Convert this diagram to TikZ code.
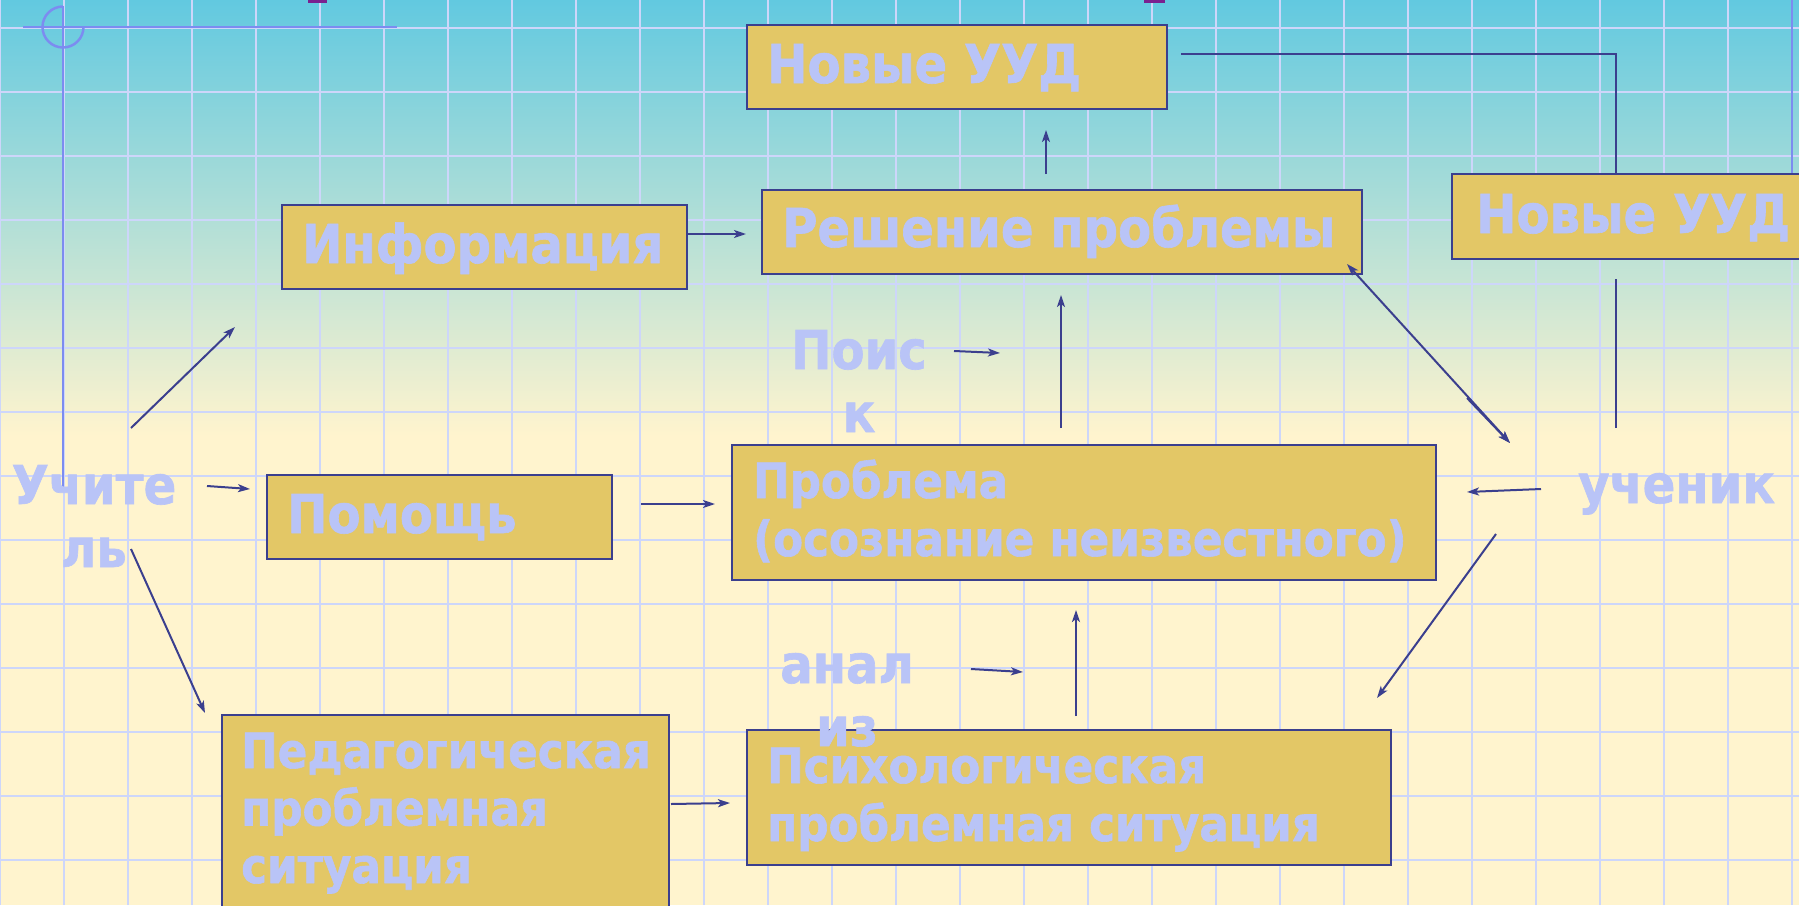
\documentclass[tikz,border=0pt]{standalone}
\usepackage{fontspec}
\setmainfont{DejaVu Sans}[FakeStretch=0.9,BoldFeatures={FakeBold=1.2}]
\usetikzlibrary{arrows.meta}
\definecolor{skytop}{HTML}{62C9E0}
\definecolor{creambg}{HTML}{FFF4CE}
\definecolor{gridln}{HTML}{CDD6FA}
\definecolor{decoln}{HTML}{7C8CF0}
\definecolor{boxfill}{HTML}{E3C766}
\definecolor{navy}{HTML}{3B3F8E}
\definecolor{lilac}{HTML}{B9C4F7}
\definecolor{plum}{HTML}{7A2090}
\begin{document}
\begin{tikzpicture}[x=1pt,y=-1pt,
  blk/.style={draw=navy,line width=2.3pt,fill=boxfill,inner sep=0pt,anchor=north west},
  txtbig/.style={text=lilac,font=\fontsize{53.5}{63}\selectfont\bfseries,inner sep=0pt},
  txtsmall/.style={text=lilac,font=\fontsize{48.5}{58}\selectfont\bfseries,inner sep=0pt,align=left},
  arr/.style={draw=navy,line width=2pt,-{Stealth[length=12pt,width=8pt,inset=3pt]}},
  ln/.style={draw=navy,line width=2pt}]
\useasboundingbox (0,0) rectangle (1799,905);
\clip (0,0) rectangle (1799,905);
% background and grid
\fill[top color=skytop,bottom color=creambg] (0,0) rectangle (1799,436);
\fill[creambg] (0,436) rectangle (1799,905);
\foreach \x in {0,...,28}
\draw[gridln,line width=2pt] (64*\x,0) -- (64*\x,905);
\foreach \y in {0,...,13}
\draw[gridln,line width=2pt] (0,28+64*\y) -- (1799,28+64*\y);
% decoration
\fill[plum] (308,0) rectangle (327,2.5);
\fill[plum] (1144,0) rectangle (1165,2.5);
\draw[decoln,line width=2.5pt] (23,27) -- (397,27);
\draw[decoln,line width=2.5pt] (63,6) -- (63,487);
\draw[decoln,line width=2.5pt] (63,6.5) arc[start angle=270,end angle=0,radius=20.5];
\draw[decoln,line width=2.5pt] (1792,0) -- (1792,173);
% boxes
\node[blk,minimum width=420,minimum height=84] (uudA) at (746,24) {};
\node[blk,minimum width=405,minimum height=84] (info) at (281,204) {};
\node[blk,minimum width=600,minimum height=84] (resh) at (761,189) {};
\node[blk,minimum width=400,minimum height=85] (uudB) at (1451,173) {};
\node[blk,minimum width=345,minimum height=84] (pomo) at (266,474) {};
\node[blk,minimum width=704,minimum height=135] (prob) at (731,444) {};
\node[blk,minimum width=447,minimum height=250] (pedag) at (221,714) {};
\node[blk,minimum width=644,minimum height=135] (psych) at (746,729) {};
% connector ends
\coordinate (t1) at (131,428);  \coordinate (i1) at (235,327);
\coordinate (t2) at (207,486);  \coordinate (p1) at (250,489);
\coordinate (t3) at (131,549);  \coordinate (g1) at (205,713);
\coordinate (i2) at (686,234);  \coordinate (r1) at (746,234);
\coordinate (r2) at (1046,174); \coordinate (u1) at (1046,130);
\coordinate (s1) at (954,351);  \coordinate (s2) at (1000,353);
\coordinate (q1) at (1061,428); \coordinate (r3) at (1061,295);
\coordinate (p2) at (641,504);  \coordinate (q2) at (715,504);
\coordinate (g2) at (671,804);  \coordinate (h1) at (730,803);
\coordinate (a1) at (971,669);  \coordinate (a2) at (1023,672);
\coordinate (h2) at (1076,716); \coordinate (q3) at (1076,610);
\coordinate (k1) at (1541,489); \coordinate (q4) at (1467,492);
\coordinate (k2) at (1496,534); \coordinate (h3) at (1377,698);
\coordinate (r4) at (1347,264); \coordinate (k3) at (1510,443);
\coordinate (k4) at (1467,398);
\coordinate (k5) at (1616,428); \coordinate (u2) at (1616,279);
\coordinate (u3) at (1181,54);  \coordinate (c1) at (1616,54);
% connectors
\draw[arr] (t1) -- (i1);
\draw[arr] (t2) -- (p1);
\draw[arr] (t3) -- (g1);
\draw[arr] (i2) -- (r1);
\draw[arr] (r2) -- (u1);
\draw[arr] (s1) -- (s2);
\draw[arr] (q1) -- (r3);
\draw[arr] (p2) -- (q2);
\draw[arr] (g2) -- (h1);
\draw[arr] (a1) -- (a2);
\draw[arr] (h2) -- (q3);
\draw[arr] (k1) -- (q4);
\draw[arr] (k2) -- (h3);
\draw[arr,{Stealth[length=12pt,width=8pt,inset=3pt]}-{Stealth[length=12pt,width=8pt,inset=3pt]}] (r4) -- (k3);
\draw[arr] (k4) -- (k3);
\draw[ln] (k5) -- (u2);
\draw[ln] (u3) -- (c1) -- (uudB.north west -| c1);
% texts (multi-line nodes sit on their last baseline)
\node[txtbig,anchor=base west] (uudAt) at (767,83) {Новые УУД};
\node[txtbig,anchor=base west] (infot) at (302,263) {Информация};
\node[txtbig,anchor=base west] (resht) at (782,247) {Решение проблемы};
\node[txtbig,anchor=base west] (uudBt) at (1476,233) {Новые УУД};
\node[txtbig,anchor=base west] (pomot) at (287,533) {Помощь};
\node[txtsmall,anchor=base west] (probt) at (753,556) {Проблема\\(осознание неизвестного)};
\node[txtsmall,anchor=base west,font=\fontsize{48.5}{57.5}\selectfont\bfseries] (pedagt) at (241,883) {Педагогическая\\проблемная\\ситуация};
\node[txtsmall,anchor=base west] (psycht) at (767,841) {Психологическая\\проблемная ситуация};
\node[txtbig,align=center,anchor=base] (teach) at (94,567) {Учите\\ль};
\node[txtbig,align=center,anchor=base] (search) at (859,432) {Поис\\к};
\node[txtbig,align=center,anchor=base] (anal) at (847,746) {анал\\из};
\node[txtbig,anchor=base west] (pupil) at (1578,503) {ученик};
\end{tikzpicture}
\end{document}
